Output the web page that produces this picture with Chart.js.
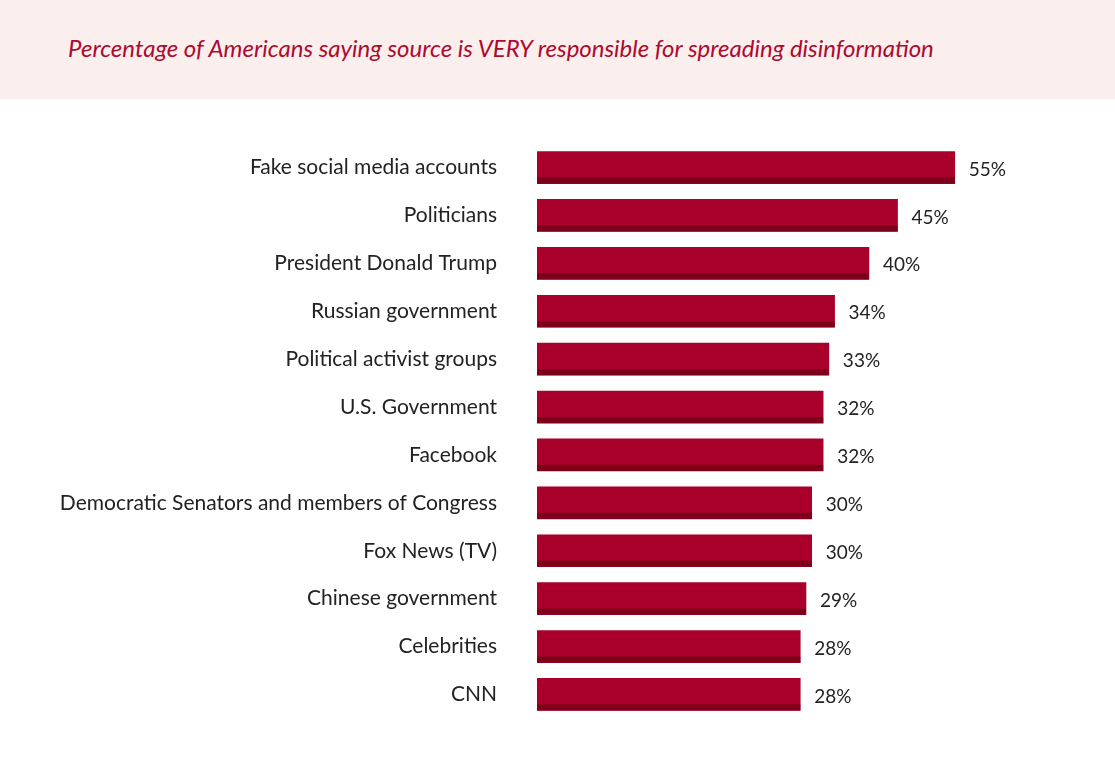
<!DOCTYPE html>
<html>
<head>
<meta charset="utf-8">
<script src="https://cdn.jsdelivr.net/npm/chart.js@4"></script>
<style>
  body { margin: 0; background: #fff; font-family: Lato, sans-serif; }
  .head { height: 99px; background: #fbefee; position: relative; }
  .head span { position: absolute; left: 68px; top: 33px; font-style: italic; font-size: 24px; color: #ad0a2f; }
  .wrap { position: relative; width: 1115px; height: 664px; }
</style>
</head>
<body>
<div class="head"><span>Percentage of Americans saying source is VERY responsible for spreading disinformation</span></div>
<div class="wrap"><canvas id="myChart"></canvas></div>
<script>
const categories = ['Fake social media accounts', 'Politicians', 'President Donald Trump', 'Russian government',
  'Political activist groups', 'U.S. Government', 'Facebook', 'Democratic Senators and members of Congress',
  'Fox News (TV)', 'Chinese government', 'Celebrities', 'CNN']
const values = [55, 45, 40, 34, 33, 32, 32, 30, 30, 29, 28, 28]

// dark stripe at bottom of each bar, plus value labels
const decor = {
  id: 'decor',
  afterDatasetsDraw(chart) {
    const ctx = chart.ctx
    chart.getDatasetMeta(0).data.forEach((bar, i) => {
      const h = bar.height
      const left = bar.base
      ctx.fillStyle = '#7c0019'
      ctx.fillRect(left, bar.y + h / 2 - 6, bar.x - left, 6)
      ctx.fillStyle = '#222'
      ctx.font = '19px Lato'
      ctx.textBaseline = 'middle'
      ctx.fillText(values[i] + '%', bar.x + 14, bar.y + 2)
    })
  }
}

new Chart(document.getElementById('myChart'), {
  type: 'bar',
  data: {
    labels: categories,
    datasets: [{
      data: values,
      base: -18,
      backgroundColor: '#a8002a',
      barThickness: 32
    }]
  },
  plugins: [decor],
  options: {
    indexAxis: 'y',
    responsive: true,
    maintainAspectRatio: false,
    animation: false,
    layout: { padding: { top: 19, bottom: 1, right: 0 } },
    plugins: { legend: { display: false }, tooltip: { enabled: false } },
    scales: {
      x: { min: -18, max: 83, display: false },
      y: {
        afterFit(scale) { scale.width = 537 },
        grid: { display: false },
        border: { display: false },
        ticks: { color: '#222', font: { family: 'Lato', size: 21 }, padding: 32 }
      }
    }
  }
})
</script>
</body>
</html>
